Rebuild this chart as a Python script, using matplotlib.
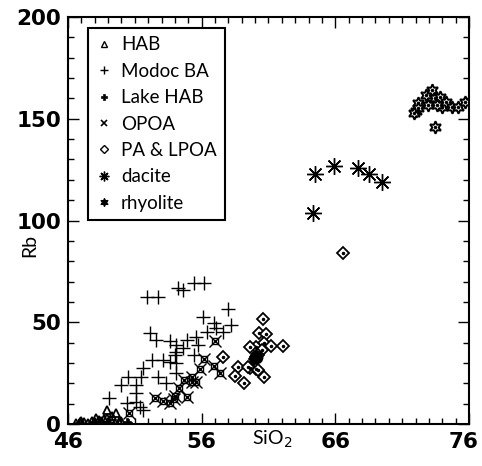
import matplotlib
matplotlib.use("Agg")
import matplotlib.pyplot as plt
from matplotlib.lines import Line2D
from matplotlib.ticker import MultipleLocator
from matplotlib.transforms import ScaledTranslation

# ---- data ----
hab_x = [46.6, 46.9, 47.2, 47.5, 47.8, 48.0, 48.3, 48.5, 48.7, 48.9, 49.0, 49.2, 48.9, 49.6, 49.3, 49.8, 49.5, 50.0, 47.0, 48.1]
hab_y = [0.5, 0.8, 1.0, 0.5, 1.5, 1.0, 2.0, 1.5, 2.5, 3.0, 1.0, 2.0, 6.9, 5.2, 4.0, 1.0, 0.5, 1.5, 1.5, 2.8]

modoc_x = [51.9, 52.75, 54.2, 54.6, 55.4, 56.2, 58.0, 56.1, 56.9, 58.2, 52.1, 52.6, 53.6, 54.1, 54.9,
           55.6, 56.4, 57.1, 57.6, 55.7, 54.6, 54.1, 55.4, 52.3, 53.1, 53.6, 54.1, 51.6, 50.5, 51.5,
           52.75, 53.3, 50.0, 51.1, 51.1, 49.1, 50.4, 51.1, 51.6, 51.4, 54.1, 54.0]
modoc_y = [62.6, 62.6, 66.7, 65.8, 69.4, 69.4, 56.4, 52.7, 49.5, 48.6, 44.9, 41.3, 40.8, 38.8, 41.3,
           42.9, 45.4, 47.0, 45.4, 38.8, 37.2, 35.5, 33.9, 31.4, 31.4, 30.6, 29.8, 27.4, 23.2, 23.2,
           23.2, 20.0, 19.2, 19.2, 15.1, 12.6, 10.2, 11.0, 6.9, 8.5, 24.9, 33.9]

lake_x = [50.5, 50.4, 47.9, 48.4, 46.8, 49.1]
lake_y = [0.6, 1.2, 1.0, 0.8, 0.3, 0.5]

opoa_x = [57.0, 56.2, 55.9, 56.9, 57.4, 54.7, 55.3, 55.6, 54.3, 54.0, 54.9, 52.5, 53.1, 53.6, 53.9, 50.6, 55.25]
opoa_y = [40.8, 31.8, 26.9, 28.5, 25.2, 21.6, 20.8, 20.8, 17.5, 13.8, 13.4, 12.9, 11.4, 10.5, 12.1, 5.6, 23.2]

pa_x = [60.6, 60.3, 60.8, 60.7, 61.2, 62.1, 60.1, 60.5, 60.1, 60.0, 60.2, 60.1, 59.6, 60.7,
        58.7, 58.5, 59.2, 59.5, 60.2, 59.6, 57.6, 66.6]
pa_y = [51.4, 44.9, 44.2, 39.7, 38.3, 38.3, 38.0, 36.4, 33.1, 32.0, 34.0, 26.9, 27.4, 23.2,
        27.9, 23.6, 20.3, 28.2, 26.5, 37.7, 32.8, 84.0]

dacite_x = [64.3, 64.5, 65.9, 67.7, 68.5, 69.5]
dacite_y = [103.5, 122.8, 126.8, 125.6, 122.7, 118.8]

rhy_x = [72.0, 72.2, 72.8, 73.2, 72.95, 73.45, 73.8, 73.95, 74.3, 74.7, 75.2, 75.7, 73.45, 72.2, 73.6, 71.9]
rhy_y = [154.0, 157.9, 161.7, 164.1, 156.8, 160.0, 160.8, 155.9, 158.4, 155.9, 155.9, 158.4, 146.1, 155.1, 156.8, 153.0]

labels = ["HAB", "Modoc BA", "Lake HAB", "OPOA", "PA & LPOA", "dacite", "rhyolite"]
x_ticks = [46, 56, 66, 76]
y_ticks = [0, 50, 100, 150, 200]

plt.rcParams['font.family'] = ['Lato', 'DejaVu Sans']

fig = plt.figure(figsize=(4.82, 4.66), dpi=100)
ax = fig.add_axes([0.141, 0.090, 0.832, 0.8735])

k = dict(linestyle='none', color='black')
ax.plot(hab_x, hab_y, marker='^', ms=6, mfc='none', mew=1.3, **k)
ax.plot(modoc_x, modoc_y, marker='+', ms=10, mew=1.0, **k)
ax.plot(lake_x, lake_y, marker='P', ms=6, mfc='black', mew=0.5, **k)
ax.plot(opoa_x, opoa_y, marker='x', ms=9, mew=1.0, **k)
ax.plot(opoa_x, opoa_y, marker='s', ms=5, mfc='none', mew=1.0, **k)
ax.plot(pa_x, pa_y, marker='D', ms=6.5, mfc='white', mew=1.3, **k)
ax.plot(pa_x, pa_y, marker='.', ms=3, **k)
ax.plot([60.1], [33.1], marker='o', ms=9, **k)
ax.plot(dacite_x, dacite_y, marker=(8, 2, 0), ms=12, mew=1.0, **k)
ax.plot(rhy_x, rhy_y, marker=(6, 1, 0), ms=9, mfc='white', mew=1.4, **k)
ax.plot(rhy_x, rhy_y, marker='.', ms=3, **k)

ax.set_xlim(46, 76)
ax.set_ylim(0, 200)
ax.set_xticks(x_ticks)
ax.set_yticks(y_ticks)
ax.xaxis.set_minor_locator(MultipleLocator(1))
ax.yaxis.set_minor_locator(MultipleLocator(10))
ax.tick_params(which='both', direction='in', top=True, right=True, width=1.0)
ax.tick_params(which='major', length=8, labelsize=15.5)
ax.tick_params(axis='x', which='major', pad=6)
ax.tick_params(axis='y', which='major', pad=5)
ax.tick_params(which='minor', length=4)
for lab in ax.get_xticklabels() + ax.get_yticklabels():
    lab.set_fontweight('bold')
    lab.set_family('DejaVu Sans')
last = ax.get_xticklabels()[-1]
last.set_transform(last.get_transform() + ScaledTranslation(-0.05, 0, fig.dpi_scale_trans))
for s in ax.spines.values():
    s.set_linewidth(1.5)

ax.set_xlabel('SiO$_2$', fontsize=14)
ax.xaxis.set_label_coords(0.509, -0.012)
ax.set_ylabel('Rb', fontsize=14)
ax.yaxis.set_label_coords(-0.075, 0.438)

h = [
    Line2D([], [], marker='^', ms=4, mfc='none', mew=1, **k),
    Line2D([], [], marker='+', ms=6, mew=1, **k),
    Line2D([], [], marker='P', ms=4, mew=0.5, **k),
    Line2D([], [], marker='x', ms=4, mew=1.2, **k),
    Line2D([], [], marker='D', ms=4, mfc='none', mew=1, **k),
    Line2D([], [], marker=(8, 2, 0), ms=7, mew=1, **k),
    Line2D([], [], marker=(6, 1, 0), ms=6, mfc='black', mew=0.8, **k),
]
leg = ax.legend(h, labels, loc='upper left', bbox_to_anchor=(0.05, 0.973), borderaxespad=0,
                fontsize=13.5, labelspacing=0.5, handlelength=0.8, handletextpad=0.5,
                borderpad=0.45, fancybox=False, edgecolor='black', framealpha=1)
leg.get_frame().set_linewidth(1.5)

fig.savefig('out.png', dpi=100)
